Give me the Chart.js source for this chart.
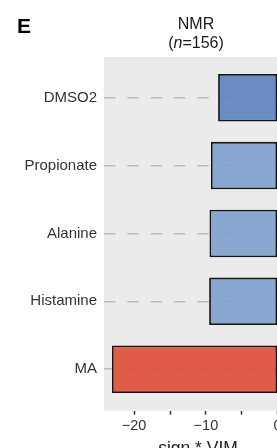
<!DOCTYPE html>
<html>
<head>
<meta charset="utf-8">
<script src="https://cdn.jsdelivr.net/npm/chart.js@4/dist/chart.umd.min.js"></script>
<style>
  html, body { margin: 0; padding: 0; background: #fff; overflow: hidden; }
  #wrap { width: 300px; height: 462px; }
</style>
</head>
<body>
<div id="wrap"><canvas id="chart" width="300" height="462"></canvas></div>
<script>
var categories = ['DMSO2', 'Propionate', 'Alanine', 'Histamine', 'MA'];
var vim = [-8.3, -9.3, -9.5, -9.55, -23.1];
var xTicks = [-20, -15, -10, -5, 0];
var panelLabel = 'E';
var titleLines = ['NMR', '(n=156)'];

var barColors = ['rgba(92,129,192,0.9)', 'rgba(125,161,207,0.9)', 'rgba(125,161,207,0.9)',
                 'rgba(125,161,207,0.9)', 'rgba(223,76,54,0.9)'];
var fontFamily = '"Liberation Sans", Arial, sans-serif';

// grey panel behind the bars, plus the panel letter and the two-line title
var decorations = {
  id: 'decorations',
  beforeDraw: function(chart) {
    var a = chart.chartArea, ctx = chart.ctx;
    ctx.save();
    ctx.fillStyle = '#ebebeb';
    ctx.fillRect(a.left, a.top, a.right - a.left, a.bottom - a.top);
    ctx.restore();
  },
  afterDraw: function(chart) {
    var a = chart.chartArea, ctx = chart.ctx;
    var cx = (a.left + a.right) / 2 - 2;
    ctx.save();
    ctx.fillStyle = '#000';
    ctx.textBaseline = 'alphabetic';
    ctx.font = 'bold 21px ' + fontFamily;
    ctx.fillText(panelLabel, 17, 33);

    ctx.fillStyle = '#1a1a1a';
    ctx.font = '16px ' + fontFamily;
    ctx.textAlign = 'center';
    ctx.fillText(titleLines[0], cx, 28.5);

    // second line: "(n=156)" with an italic n
    var parts = [['(', false], ['n', true], ['=156)', false]];
    var total = 0;
    parts.forEach(function(p) {
      ctx.font = (p[1] ? 'italic ' : '') + '16px ' + fontFamily;
      total += ctx.measureText(p[0]).width;
    });
    var x = cx - total / 2;
    ctx.textAlign = 'left';
    parts.forEach(function(p) {
      ctx.font = (p[1] ? 'italic ' : '') + '16px ' + fontFamily;
      ctx.fillText(p[0], x, 48);
      x += ctx.measureText(p[0]).width;
    });
    ctx.restore();
  }
};

var data = {
  datasets: [{
    data: vim.map(function(v, i) { return { x: v, y: i }; }),
    backgroundColor: barColors,
    borderColor: '#151515',
    borderWidth: 1.8,
    borderSkipped: false,
    barPercentage: 0.7,
    categoryPercentage: 1
  }]
};

var myChart = new Chart(document.getElementById('chart'), {
  type: 'bar',
  data: data,
  plugins: [decorations],
  options: {
    indexAxis: 'y',
    responsive: false,
    animation: false,
    devicePixelRatio: 1,
    layout: { padding: { top: 57, right: 8, bottom: 0, left: 0 } },
    plugins: {
      legend: { display: false },
      tooltip: { enabled: false }
    },
    scales: {
      x: {
        type: 'linear',
        min: -24.2,
        max: 2.0,
        afterBuildTicks: function(scale) {
          scale.ticks = xTicks.map(function(v) { return { value: v }; });
        },
        ticks: {
          padding: 3,
          color: '#333',
          font: { family: fontFamily, size: 14.5 },
          callback: function(v) {
            if (v % 10 !== 0) return '';
            return v < 0 ? '\u2212' + Math.abs(v) : String(v);
          }
        },
        grid: {
          drawOnChartArea: false,
          drawTicks: true,
          tickLength: 4,
          tickColor: '#333',
          tickWidth: 1.5
        },
        border: { display: false },
        title: {
          display: true,
          text: 'sign * VIM',
          color: '#222',
          font: { family: fontFamily, size: 17.5 },
          padding: { top: 1, bottom: 2 }
        }
      },
      y: {
        type: 'linear',
        reverse: true,
        offset: false,
        min: -0.6,
        max: 4.61,
        afterBuildTicks: function(scale) {
          scale.ticks = categories.map(function(c, i) { return { value: i }; });
        },
        afterFit: function(scale) { scale.width = 104; },
        ticks: {
          padding: 7,
          color: '#333',
          font: { family: fontFamily, size: 15 },
          callback: function(v) { return categories[v]; }
        },
        grid: {
          offset: false,
          drawTicks: false,
          color: '#bdbdbd',
          lineWidth: 1.5
        },
        border: { display: false, dash: [11.5, 11.8] }
      }
    }
  }
});
</script>
</body>
</html>
